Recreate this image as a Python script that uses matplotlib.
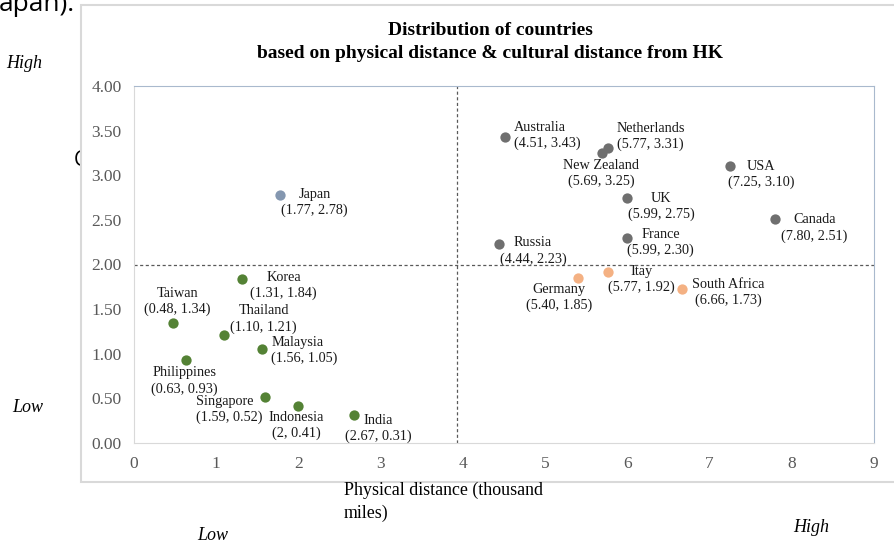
import matplotlib.pyplot as plt
from matplotlib.patches import Rectangle

plt.rcParams['font.family'] = ['Liberation Serif', 'DejaVu Serif']

W, H = 894, 547

# data: (name, physical distance, cultural distance)
green_names = ['Korea', 'Taiwan', 'Thailand', 'Malaysia', 'Philippines', 'Singapore', 'Indonesia', 'India']
green_x = [1.31, 0.48, 1.10, 1.56, 0.63, 1.59, 2.0, 2.67]
green_y = [1.84, 1.34, 1.21, 1.05, 0.93, 0.52, 0.41, 0.31]
green_lbl = ['(1.31, 1.84)', '(0.48, 1.34)', '(1.10, 1.21)', '(1.56, 1.05)', '(0.63, 0.93)',
             '(1.59, 0.52)', '(2, 0.41)', '(2.67, 0.31)']

gray_names = ['Australia', 'Netherlands', 'New Zealand', 'USA', 'UK', 'Canada', 'Russia', 'France']
gray_x = [4.51, 5.77, 5.69, 7.25, 5.99, 7.80, 4.44, 5.99]
gray_y = [3.43, 3.31, 3.25, 3.10, 2.75, 2.51, 2.23, 2.30]
gray_lbl = ['(4.51, 3.43)', '(5.77, 3.31)', '(5.69, 3.25)', '(7.25, 3.10)', '(5.99, 2.75)',
            '(7.80, 2.51)', '(4.44, 2.23)', '(5.99, 2.30)']

orange_names = ['Itay', 'Germany', 'South Africa']
orange_x = [5.77, 5.40, 6.66]
orange_y = [1.92, 1.85, 1.73]
orange_lbl = ['(5.77, 1.92)', '(5.40, 1.85)', '(6.66, 1.73)']

japan_x = [1.77]
japan_y = [2.78]

x_split = 3.93
y_split = 2.0

xticks = list(range(0, 10))
yticks = [0, 0.5, 1.0, 1.5, 2.0, 2.5, 3.0, 3.5, 4.0]

# label offsets in pixels (dx, dy, ha)
offsets = {
    'Korea': (42, -7, 'center'), 'Taiwan': (4, 22, 'center'), 'Thailand': (39, 16, 'center'),
    'Malaysia': (9, -1, 'left'), 'Philippines': (-1, -21, 'center'), 'Singapore': (-69, -13, 'left'),
    'Indonesia': (-2, -19, 'center'), 'India': (25, -13, 'center'),
    'Australia': (9, 1, 'left'), 'Netherlands': (42, 11, 'center'), 'New Zealand': (-1, -21, 'center'),
    'USA': (31, -8, 'center'), 'UK': (35, -9, 'center'), 'Canada': (39, -9, 'center'),
    'Russia': (34, -7, 'center'), 'France': (34, -5, 'center'),
    'Itay': (33, -8, 'center'), 'Germany': (-19, -20, 'center'), 'South Africa': (47, -4, 'center'),
    'Japan': (35, -8, 'center'),
}

fig = plt.figure(figsize=(W / 100, H / 100), dpi=100)

# cut-off document text behind the chart
fig.text(-1 / W, 1 - 11 / H, 'apan).', ha='left', va='baseline', fontsize=19,
         family='Open Sans', zorder=-3)
fig.text(74 / W, 1 - 161 / H, 'C', ha='left', va='center', fontsize=15,
         family='Open Sans', zorder=-3)

# chart frame
fig.patches.append(Rectangle((81 / W, 1 - 482 / H), (W - 81 + 5) / W, (482 - 5) / H,
                             transform=fig.transFigure, facecolor='white',
                             edgecolor='#d9d9d9', lw=1.5, zorder=-1))

ax = fig.add_axes([134 / W, 1 - 443 / H, (874 - 134) / W, (443 - 86) / H])
ax.set_xlim(0, 9)
ax.set_ylim(0, 4)
ax.set_xticks(xticks)
ax.set_yticks(yticks)
ax.set_yticklabels(['%.2f' % v for v in yticks])
ax.tick_params(length=0, colors='#595959', labelsize=12.5)
ax.tick_params(axis='y', pad=9)
ax.tick_params(axis='x', pad=9)
for s in ['top', 'right']:
    ax.spines[s].set_color('#a9b9cd')
for s in ['left', 'bottom']:
    ax.spines[s].set_color('#d9d9d9')

ax.axvline(x_split, color='#595959', ls=(0, (2.5, 2)), lw=0.9)
ax.axhline(y_split, color='#595959', ls=(0, (2.5, 2)), lw=0.9)

def plot_group(xs, ys, names, lbls, color):
    ax.scatter(xs, ys, s=55, color=color, zorder=3, linewidths=0)
    for x, y, n, l in zip(xs, ys, names, lbls):
        dx, dy, ha = offsets[n]
        ax.annotate(n + '\n' + l, (x, y), xytext=(dx, dy), textcoords='offset pixels',
                    ha=ha, va='center', fontsize=10.3, multialignment=ha, linespacing=1.25,
                    color='#1a1a1a')

plot_group(green_x, green_y, green_names, green_lbl, '#548235')
plot_group(gray_x, gray_y, gray_names, gray_lbl, '#6f6f6f')
plot_group(orange_x, orange_y, orange_names, orange_lbl, '#f4b183')
plot_group(japan_x, japan_y, ['Japan'], ['(1.77, 2.78)'], '#8497b0')

fig.text(490 / W, 1 - 42 / H, 'Distribution of countries\nbased on physical distance & cultural distance from HK',
         ha='center', va='center', fontsize=14, fontweight='bold', linespacing=1.5)

fig.text(344 / W, 1 - 502 / H, 'Physical distance (thousand\nmiles)', ha='left', va='center',
         fontsize=12.9, linespacing=1.45)

fig.text(24 / W, 1 - 63 / H, 'High', ha='center', va='center', fontsize=13, style='italic')
fig.text(28 / W, 1 - 407 / H, 'Low', ha='center', va='center', fontsize=13, style='italic')
fig.text(213 / W, 1 - 536 / H, 'Low', ha='center', va='center', fontsize=13, style='italic')
fig.text(811 / W, 1 - 527 / H, 'High', ha='center', va='center', fontsize=13, style='italic')

fig.savefig('out.png', dpi=100)
